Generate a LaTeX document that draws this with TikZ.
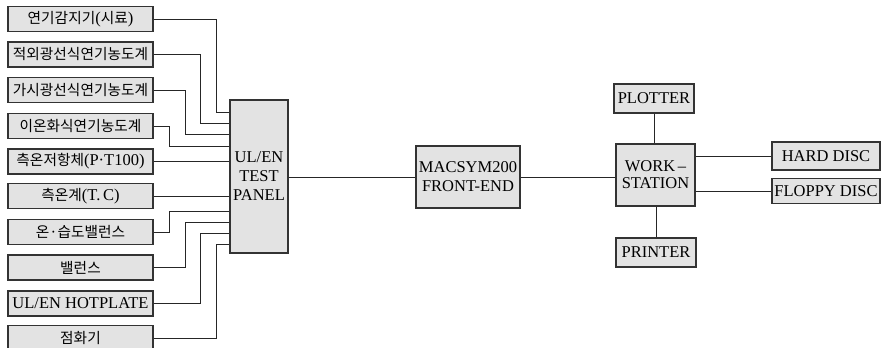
\documentclass[tikz,border=0pt]{standalone}
\usepackage{fontspec}
\setmainfont{Liberation Serif}
\newfontfamily\krfont[Scale=0.89]{Noto Sans CJK KR}
\newcommand{\kr}[1]{{\krfont #1}}
\begin{document}
\begin{tikzpicture}[x=1pt,y=-1pt,
  box/.style={draw=black!80, line width=1.1pt, fill=black!11, inner sep=0pt,
    align=center, font=\fontsize{16.5}{19}\selectfont},
  lbox/.style={box, minimum width=145pt, minimum height=25pt},
  wire/.style={line width=0.8pt, draw=black!85}]
\useasboundingbox (0,0) rectangle (881,348);
% left column
\node[lbox] (b1) at (80.5,19) {\kr{연기감지기}(\kr{시료})};
\node[lbox] (b2) at (80.5,54.5) {\kr{적외광선식연기농도계}};
\node[lbox] (b3) at (80.5,90) {\kr{가시광선식연기농도계}};
\node[lbox] (b4) at (80.5,126) {\kr{이온화식연기농도계}};
\node[lbox] (b5) at (80.5,161.5) {\kr{측온저항체}(P·T100)};
\node[lbox] (b6) at (80.5,196) {\kr{측온계}(T.\,C)};
\node[lbox] (b7) at (80.5,232) {\kr{온·습도밸런스}};
\node[lbox] (b8) at (80.5,267.5) {\kr{밸런스}};
\node[lbox] (b9) at (80.5,303.5) {UL/EN HOTPLATE};
\node[lbox] (b10) at (80.5,338) {\kr{점화기}};
% panel
\node[box, minimum width=58pt, minimum height=153pt] (panel) at (259,176.5) {UL/EN\\TEST\\PANEL};
\node[box, minimum width=104pt, minimum height=62pt] (mac) at (468,177) {MACSYM200\\FRONT-END};
\node[box, minimum width=79pt, minimum height=62pt, font=\fontsize{16.5}{17}\selectfont] (ws) at (655.5,175) {WORK\,--\\STATION};
\node[box, minimum width=80pt, minimum height=29pt] (pl) at (654,98.5) {PLOTTER};
\node[box, minimum width=80pt, minimum height=29pt] (pr) at (656,252.5) {PRINTER};
\node[box, minimum width=108pt, minimum height=28pt] (hd) at (826,156) {HARD DISC};
\node[box, minimum width=108pt, minimum height=25pt] (fd) at (826,191) {FLOPPY DISC};
% connectors from left column
\foreach \i/\x/\y in {1/216/112, 2/200/123, 3/185/134, 4/169/146,
                      7/169/211, 8/185/222, 9/200/233, 10/216/244}
  \draw[wire] (b\i.east) -- (\x,0 |- b\i.east) |- (panel.west |- 0,\y);
\draw[wire] (b5.east) -- (b5.east -| panel.west);
\draw[wire] (b6.east) -- (b6.east -| panel.west);
% main chain
\draw[wire] (mac.west -| panel.east) -- (mac.west);
\draw[wire] (mac.east) -- (mac.east -| ws.west);
\draw[wire] (pl.south) -- (pl.south |- ws.north);
\draw[wire] (pr.north) -- (pr.north |- ws.south);
\draw[wire] (hd.west -| ws.east) -- (hd.west);
\draw[wire] (fd.west -| ws.east) -- (fd.west);
\end{tikzpicture}
\end{document}
